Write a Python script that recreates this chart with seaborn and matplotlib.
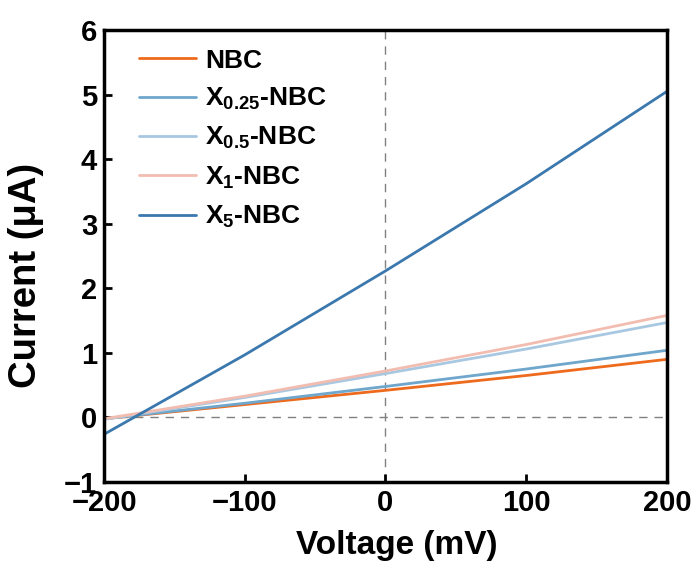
import numpy as np
import pandas as pd
import seaborn as sns
import matplotlib.pyplot as plt

voltage = [-200, -100, 0, 100, 200]
nbc = [-0.02, 0.20, 0.42, 0.65, 0.90]
x025 = [-0.02, 0.22, 0.48, 0.75, 1.04]
x05 = [-0.03, 0.31, 0.68, 1.06, 1.47]
x1 = [-0.02, 0.33, 0.72, 1.13, 1.58]
x5 = [-0.26, 0.97, 2.27, 3.62, 5.05]
labels = ["NBC", r"X$_{0.25}$-NBC", r"X$_{0.5}$-NBC", r"X$_{1}$-NBC", r"X$_{5}$-NBC"]
colors = ["#EE6A1C", "#6FA6CC", "#A8C8E2", "#F2BDB0", "#3B78AE"]

rows = []
for lab, ys in zip(labels, [nbc, x025, x05, x1, x5]):
    for v, c in zip(voltage, ys):
        rows.append({"Voltage": v, "Current": c, "Sample": lab})
df = pd.DataFrame(rows)

sns.set_style("ticks")
plt.rcParams['font.family'] = ['Liberation Sans', 'DejaVu Sans']
plt.rcParams['font.weight'] = 'bold'
plt.rcParams['text.color'] = 'black'
plt.rcParams['axes.labelcolor'] = 'black'
plt.rcParams['xtick.color'] = 'black'
plt.rcParams['ytick.color'] = 'black'
plt.rcParams['axes.edgecolor'] = 'black'
plt.rcParams['mathtext.fontset'] = 'custom'
plt.rcParams['mathtext.rm'] = 'Liberation Sans:bold'
plt.rcParams['mathtext.it'] = 'Liberation Sans:bold'
plt.rcParams['mathtext.bf'] = 'Liberation Sans:bold'

fig, ax = plt.subplots(figsize=(6.99, 5.79), dpi=100)
ax.axhline(0, color="#808080", lw=1, ls=(0, (6, 5)), zorder=0)
ax.axvline(0, color="#808080", lw=1, ls=(0, (6, 5)), zorder=0)
sns.lineplot(data=df, x="Voltage", y="Current", hue="Sample", hue_order=labels,
             palette=colors, linewidth=2, ax=ax)

ax.set_xlim(-200, 200)
ax.set_ylim(-1, 6)
ax.set_xticks([-200, -100, 0, 100, 200])
ax.set_yticks(range(-1, 7))
ax.tick_params(direction="in", length=6, width=2, labelsize=21, pad=5)
for lab in ax.get_xticklabels() + ax.get_yticklabels():
    lab.set_fontweight("bold")
for s in ax.spines.values():
    s.set_linewidth(2.5)
ax.set_xlabel("Voltage (mV)", fontsize=24, fontweight="bold")
ax.set_ylabel("Current (μA)", fontsize=27.5, fontweight="bold")
ax.xaxis.set_label_coords(0.52, -0.106)
ax.yaxis.set_label_coords(-0.107, 0.458)
leg = ax.legend(frameon=False, fontsize=19, loc="upper left", handlelength=2.15,
                handletextpad=0.35, labelspacing=0.5, borderaxespad=0.3,
                bbox_to_anchor=(0.029, 1.0))
plt.subplots_adjust(left=0.149, right=0.954, top=0.948, bottom=0.1675)
fig.savefig("out.png", dpi=100)
